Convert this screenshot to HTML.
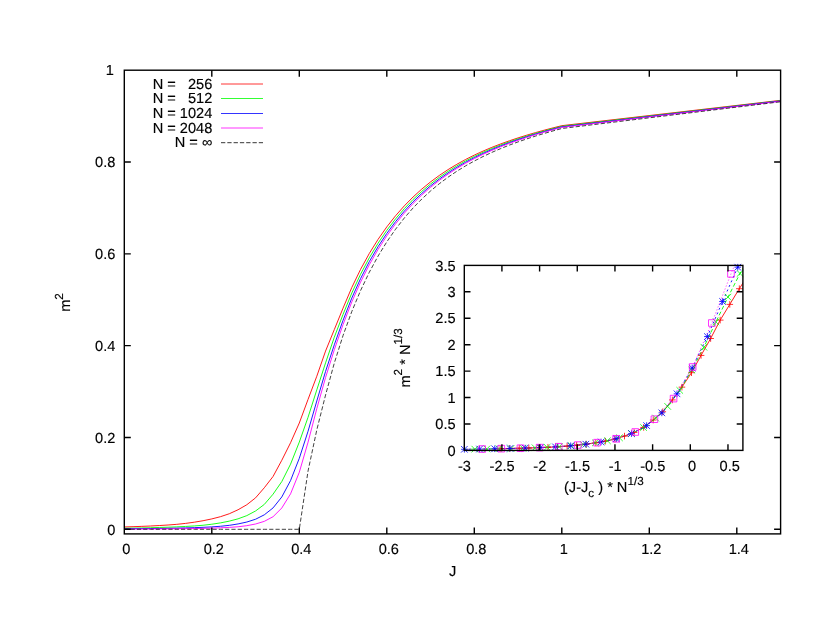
<!DOCTYPE html>
<html><head><meta charset="utf-8"><title>m2 vs J</title>
<style>
html,body{margin:0;padding:0;background:#fff;}
body{width:830px;height:642px;overflow:hidden;font-family:"Liberation Sans",sans-serif;}
svg{display:block;will-change:transform;}
text{text-rendering:geometricPrecision;stroke:#000;stroke-width:0.15px;stroke-linejoin:round;}
</style></head>
<body>
<svg width="830" height="642" viewBox="0 0 830 642" font-family="'Liberation Sans', sans-serif" font-size="14.6" fill="#000">
<rect x="0" y="0" width="830" height="642" fill="#fff"/>
<clipPath id="cm"><rect x="124.3" y="70.2" width="656.3000000000001" height="463.7"/></clipPath>
<g clip-path="url(#cm)" fill="none" stroke-width="0.9" stroke-linejoin="round">
<polyline points="124.30,526.95 133.05,526.68 141.80,526.37 150.55,526.00 159.30,525.54 168.05,525.01 176.80,524.33 185.55,523.40 194.30,522.19 203.05,520.72 211.80,518.91 220.55,516.66 229.30,513.74 238.05,509.76 246.80,504.74 255.55,497.86 264.30,487.75 273.05,476.48 281.80,460.25 290.55,442.76 299.30,423.01 308.05,399.37 316.80,376.23 325.55,351.07 334.30,329.60 343.05,308.12 351.80,287.48 360.55,269.38 369.30,253.45 378.05,239.37 386.80,226.89 395.55,215.78 404.30,205.87 413.05,197.00 421.80,189.05 430.55,181.90 439.30,175.44 448.05,169.61 456.80,164.32 465.55,159.50 474.30,155.11 483.05,151.08 491.80,147.39 500.55,143.98 509.30,140.83 518.05,137.89 526.80,135.16 535.55,132.58 544.30,130.16 553.05,127.86 561.80,125.66 780.55,100.36" stroke="#ff0000"/>
<polyline points="124.30,528.21 133.05,528.11 141.80,527.94 150.55,527.71 159.30,527.46 168.05,527.19 176.80,526.87 185.55,526.45 194.30,525.94 203.05,525.25 211.80,524.23 220.55,522.88 229.30,521.14 238.05,518.84 246.80,515.62 255.55,510.99 264.30,504.43 273.05,494.19 281.80,481.55 290.55,464.17 299.30,442.07 308.05,417.28 316.80,389.85 325.55,362.88 334.30,337.22 343.05,314.38 351.80,292.99 360.55,274.25 369.30,257.77 378.05,243.23 386.80,230.34 395.55,218.88 404.30,208.66 413.05,199.53 421.80,191.34 430.55,183.98 439.30,177.35 448.05,171.35 456.80,165.91 465.55,160.97 474.30,156.46 483.05,152.33 491.80,148.54 500.55,145.05 509.30,141.82 518.05,138.82 526.80,136.01 535.55,133.39 544.30,130.91 553.05,128.56 561.80,126.31 780.55,100.69" stroke="#00ff00"/>
<polyline points="124.30,528.76 133.05,528.69 141.80,528.61 150.55,528.53 159.30,528.45 168.05,528.35 176.80,528.15 185.55,527.91 194.30,527.65 203.05,527.32 211.80,526.88 220.55,526.28 229.30,525.33 238.05,523.95 246.80,522.04 255.55,519.24 264.30,514.82 273.05,507.92 281.80,496.96 290.55,480.55 299.30,458.29 308.05,431.23 316.80,400.99 325.55,371.43 334.30,344.77 343.05,320.31 351.80,298.04 360.55,278.63 369.30,261.63 378.05,246.66 386.80,233.41 395.55,221.64 404.30,211.15 413.05,201.78 421.80,193.38 430.55,185.84 439.30,179.05 448.05,172.90 456.80,167.34 465.55,162.28 474.30,157.66 483.05,153.44 491.80,149.57 500.55,146.00 509.30,142.70 518.05,139.64 526.80,136.78 535.55,134.10 544.30,131.57 553.05,129.18 561.80,126.90 780.55,100.98" stroke="#0000ff"/>
<polyline points="124.30,529.12 133.05,529.07 141.80,529.01 150.55,528.95 159.30,528.88 168.05,528.81 176.80,528.73 185.55,528.65 194.30,528.55 203.05,528.36 211.80,528.11 220.55,527.82 229.30,527.40 238.05,526.78 246.80,525.68 255.55,524.00 264.30,521.35 273.05,516.72 281.80,507.97 290.55,493.87 299.30,472.25 308.05,442.17 316.80,408.59 325.55,377.53 334.30,349.73 343.05,324.56 351.80,301.91 360.55,282.11 369.30,264.73 378.05,249.42 386.80,235.88 395.55,223.86 404.30,213.15 413.05,203.59 421.80,195.03 430.55,187.34 439.30,180.41 448.05,174.15 456.80,168.48 465.55,163.33 474.30,158.63 483.05,154.34 491.80,150.40 500.55,146.77 509.30,143.41 518.05,140.30 526.80,137.40 535.55,134.67 544.30,132.11 553.05,129.68 561.80,127.37 780.55,101.22" stroke="#ff00ff"/>
<polyline points="124.30,529.30 133.05,529.30 141.80,529.30 150.55,529.30 159.30,529.30 168.05,529.30 176.80,529.30 185.55,529.30 194.30,529.30 203.05,529.30 211.80,529.30 220.55,529.30 229.30,529.30 238.05,529.30 246.80,529.30 255.55,529.30 264.30,529.30 273.05,529.30 281.80,529.30 290.55,529.30 299.30,529.30 308.05,470.99 316.80,429.90 325.55,395.04 334.30,363.10 343.05,335.50 351.80,311.52 360.55,290.60 369.30,272.26 378.05,256.12 386.80,241.87 395.55,229.24 404.30,218.01 413.05,207.99 421.80,199.02 430.55,190.97 439.30,183.72 448.05,177.18 456.80,171.26 465.55,165.88 474.30,160.99 483.05,156.51 491.80,152.41 500.55,148.63 509.30,145.14 518.05,141.90 526.80,138.89 535.55,136.07 544.30,133.41 553.05,130.90 561.80,128.51 780.55,101.79" stroke="#111" stroke-width="0.8" stroke-dasharray="4.2 2.1"/>
</g>
<g stroke="#000" stroke-width="1.4" fill="none" stroke-linecap="butt">
<rect x="124.3" y="70.2" width="656.30" height="463.70"/>
<path d="M211.80 533.9 v-6.5 M211.80 70.2 v6.5"/>
<path d="M299.30 533.9 v-6.5 M299.30 70.2 v6.5"/>
<path d="M386.80 533.9 v-6.5 M386.80 70.2 v6.5"/>
<path d="M474.30 533.9 v-6.5 M474.30 70.2 v6.5"/>
<path d="M561.80 533.9 v-6.5 M561.80 70.2 v6.5"/>
<path d="M649.30 533.9 v-6.5 M649.30 70.2 v6.5"/>
<path d="M736.80 533.9 v-6.5 M736.80 70.2 v6.5"/>
<path d="M124.3 529.30 h6.5 M780.6 529.30 h-6.5"/>
<path d="M124.3 437.48 h6.5 M780.6 437.48 h-6.5"/>
<path d="M124.3 345.66 h6.5 M780.6 345.66 h-6.5"/>
<path d="M124.3 253.84 h6.5 M780.6 253.84 h-6.5"/>
<path d="M124.3 162.02 h6.5 M780.6 162.02 h-6.5"/>
</g>
<text x="126.30" y="554.0" text-anchor="middle">0</text>
<text x="213.80" y="554.0" text-anchor="middle">0.2</text>
<text x="301.30" y="554.0" text-anchor="middle">0.4</text>
<text x="388.80" y="554.0" text-anchor="middle">0.6</text>
<text x="476.30" y="554.0" text-anchor="middle">0.8</text>
<text x="563.80" y="554.0" text-anchor="middle">1</text>
<text x="651.30" y="554.0" text-anchor="middle">1.2</text>
<text x="738.80" y="554.0" text-anchor="middle">1.4</text>
<text x="115.4" y="534.50" text-anchor="end">0</text>
<text x="115.4" y="442.68" text-anchor="end">0.2</text>
<text x="115.4" y="350.86" text-anchor="end">0.4</text>
<text x="115.4" y="259.04" text-anchor="end">0.6</text>
<text x="115.4" y="167.22" text-anchor="end">0.8</text>
<text x="113.9" y="75.40" text-anchor="end">1</text>
<text x="452.7" y="576.1" text-anchor="middle">J</text>
<text transform="translate(70.4,311.8) rotate(-90)">m<tspan font-size="11.7" dy="-7.5">2</tspan></text>
<text x="212.3" y="88.6" text-anchor="end" xml:space="preserve" style="white-space:pre">N =   256</text>
<path d="M221 84.0 H263" stroke="#ff0000" stroke-width="0.8" fill="none"/>
<text x="212.3" y="103.2" text-anchor="end" xml:space="preserve" style="white-space:pre">N =   512</text>
<path d="M221 98.5 H263" stroke="#00ff00" stroke-width="0.8" fill="none"/>
<text x="212.3" y="117.9" text-anchor="end" xml:space="preserve" style="white-space:pre">N = 1024</text>
<path d="M221 113.5 H263" stroke="#0000ff" stroke-width="0.8" fill="none"/>
<text x="212.3" y="132.8" text-anchor="end" xml:space="preserve" style="white-space:pre">N = 2048</text>
<path d="M221 128.0 H263" stroke="#ff00ff" stroke-width="0.8" fill="none"/>
<text x="212.3" y="147.4" text-anchor="end" xml:space="preserve" style="white-space:pre">N = ∞</text>
<path d="M221 142.7 H263" stroke="#000" stroke-width="0.8" stroke-dasharray="4.3 2.0" fill="none"/>
<rect x="464.3" y="265.4" width="278.60" height="185.00" fill="#fff" stroke="none"/>
<clipPath id="ci"><rect x="464.3" y="265.4" width="278.60" height="185.00"/></clipPath>
<g fill="none" stroke-width="0.9">
<polyline clip-path="url(#ci)" points="500.12,448.68 509.69,448.48 519.26,448.26 528.83,447.98 538.39,447.65 547.96,447.26 557.53,446.77 567.10,446.09 576.67,445.20 586.24,444.13 595.81,442.81 605.38,441.16 614.95,439.03 624.51,436.12 634.08,432.44 643.65,427.41 653.22,420.03 662.79,411.78 672.36,399.92 681.93,387.13 691.50,372.70 701.06,355.41 710.63,338.50 720.20,320.10 729.77,304.40 739.34,288.70 748.91,273.61 758.48,260.38" stroke="#ff0000"/>
<polyline clip-path="url(#ci)" points="450.69,449.40 462.74,449.31 474.80,449.15 486.86,448.94 498.91,448.71 510.97,448.46 523.02,448.16 535.08,447.78 547.13,447.30 559.19,446.67 571.25,445.73 583.30,444.49 595.36,442.88 607.41,440.76 619.47,437.80 631.53,433.53 643.58,427.49 655.64,418.06 667.69,406.42 679.75,390.40 691.81,370.05 703.86,347.22 715.92,321.95 727.97,297.11 740.03,273.48 752.09,252.43 764.14,232.73" stroke="#00ff00" stroke-dasharray="4 2.4"/>
<polyline clip-path="url(#ci)" points="388.41,449.77 403.60,449.69 418.79,449.60 433.98,449.51 449.16,449.41 464.35,449.29 479.54,449.07 494.73,448.79 509.92,448.48 525.11,448.10 540.30,447.59 555.49,446.89 570.68,445.79 585.87,444.19 601.06,441.98 616.25,438.73 631.44,433.60 646.63,425.59 661.82,412.87 677.01,393.83 692.20,367.99 707.39,336.59 722.58,301.49 737.77,267.19 752.96,236.25" stroke="#0000ff" stroke-dasharray="2 3"/>
<polyline clip-path="url(#ci)" points="309.94,450.14 329.08,450.07 348.21,449.98 367.35,449.88 386.49,449.78 405.63,449.68 424.76,449.57 443.90,449.45 463.04,449.31 482.18,449.02 501.32,448.66 520.45,448.23 539.59,447.62 558.73,446.71 577.87,445.10 597.00,442.66 616.14,438.78 635.28,432.00 654.42,419.21 673.55,398.60 692.69,366.99 711.83,323.01 730.97,273.90 750.11,228.49" stroke="#ff00ff" stroke-dasharray="1 2.2"/>
<path d="M496.82 448.68h6.6M500.12 445.38v6.6M506.39 448.48h6.6M509.69 445.18v6.6M515.96 448.26h6.6M519.26 444.96v6.6M525.53 447.98h6.6M528.83 444.68v6.6M535.09 447.65h6.6M538.39 444.35v6.6M544.66 447.26h6.6M547.96 443.96v6.6M554.23 446.77h6.6M557.53 443.47v6.6M563.80 446.09h6.6M567.10 442.79v6.6M573.37 445.20h6.6M576.67 441.90v6.6M582.94 444.13h6.6M586.24 440.83v6.6M592.51 442.81h6.6M595.81 439.51v6.6M602.08 441.16h6.6M605.38 437.86v6.6M611.65 439.03h6.6M614.95 435.73v6.6M621.21 436.12h6.6M624.51 432.82v6.6M630.78 432.44h6.6M634.08 429.14v6.6M640.35 427.41h6.6M643.65 424.11v6.6M649.92 420.03h6.6M653.22 416.73v6.6M659.49 411.78h6.6M662.79 408.48v6.6M669.06 399.92h6.6M672.36 396.62v6.6M678.63 387.13h6.6M681.93 383.83v6.6M688.20 372.70h6.6M691.50 369.40v6.6M697.76 355.41h6.6M701.06 352.11v6.6M707.33 338.50h6.6M710.63 335.20v6.6M716.90 320.10h6.6M720.20 316.80v6.6M726.47 304.40h6.6M729.77 301.10v6.6M736.04 288.70h6.6M739.34 285.40v6.6" stroke="#ff0000" stroke-width="0.8"/>
<path d="M471.50 445.85l6.6 6.6M471.50 452.45l6.6 -6.6M483.56 445.64l6.6 6.6M483.56 452.24l6.6 -6.6M495.61 445.41l6.6 6.6M495.61 452.01l6.6 -6.6M507.67 445.16l6.6 6.6M507.67 451.76l6.6 -6.6M519.72 444.86l6.6 6.6M519.72 451.46l6.6 -6.6M531.78 444.48l6.6 6.6M531.78 451.08l6.6 -6.6M543.84 444.00l6.6 6.6M543.84 450.60l6.6 -6.6M555.89 443.37l6.6 6.6M555.89 449.97l6.6 -6.6M567.95 442.43l6.6 6.6M567.95 449.03l6.6 -6.6M580.00 441.19l6.6 6.6M580.00 447.79l6.6 -6.6M592.06 439.58l6.6 6.6M592.06 446.18l6.6 -6.6M604.12 437.46l6.6 6.6M604.12 444.06l6.6 -6.6M616.17 434.50l6.6 6.6M616.17 441.10l6.6 -6.6M628.23 430.23l6.6 6.6M628.23 436.83l6.6 -6.6M640.28 424.19l6.6 6.6M640.28 430.79l6.6 -6.6M652.34 414.76l6.6 6.6M652.34 421.36l6.6 -6.6M664.39 403.12l6.6 6.6M664.39 409.72l6.6 -6.6M676.45 387.10l6.6 6.6M676.45 393.70l6.6 -6.6M688.51 366.75l6.6 6.6M688.51 373.35l6.6 -6.6M700.56 343.92l6.6 6.6M700.56 350.52l6.6 -6.6M712.62 318.65l6.6 6.6M712.62 325.25l6.6 -6.6M724.67 293.81l6.6 6.6M724.67 300.41l6.6 -6.6M736.73 270.18l6.6 6.6M736.73 276.78l6.6 -6.6" stroke="#00ff00" stroke-width="0.8"/>
<path d="M461.05 449.29h6.6M464.35 445.99v6.6M461.05 445.99l6.6 6.6M461.05 452.59l6.6 -6.6M476.24 449.07h6.6M479.54 445.77v6.6M476.24 445.77l6.6 6.6M476.24 452.37l6.6 -6.6M491.43 448.79h6.6M494.73 445.49v6.6M491.43 445.49l6.6 6.6M491.43 452.09l6.6 -6.6M506.62 448.48h6.6M509.92 445.18v6.6M506.62 445.18l6.6 6.6M506.62 451.78l6.6 -6.6M521.81 448.10h6.6M525.11 444.80v6.6M521.81 444.80l6.6 6.6M521.81 451.40l6.6 -6.6M537.00 447.59h6.6M540.30 444.29v6.6M537.00 444.29l6.6 6.6M537.00 450.89l6.6 -6.6M552.19 446.89h6.6M555.49 443.59v6.6M552.19 443.59l6.6 6.6M552.19 450.19l6.6 -6.6M567.38 445.79h6.6M570.68 442.49v6.6M567.38 442.49l6.6 6.6M567.38 449.09l6.6 -6.6M582.57 444.19h6.6M585.87 440.89v6.6M582.57 440.89l6.6 6.6M582.57 447.49l6.6 -6.6M597.76 441.98h6.6M601.06 438.68v6.6M597.76 438.68l6.6 6.6M597.76 445.28l6.6 -6.6M612.95 438.73h6.6M616.25 435.43v6.6M612.95 435.43l6.6 6.6M612.95 442.03l6.6 -6.6M628.14 433.60h6.6M631.44 430.30v6.6M628.14 430.30l6.6 6.6M628.14 436.90l6.6 -6.6M643.33 425.59h6.6M646.63 422.29v6.6M643.33 422.29l6.6 6.6M643.33 428.89l6.6 -6.6M658.52 412.87h6.6M661.82 409.57v6.6M658.52 409.57l6.6 6.6M658.52 416.17l6.6 -6.6M673.71 393.83h6.6M677.01 390.53v6.6M673.71 390.53l6.6 6.6M673.71 397.13l6.6 -6.6M688.90 367.99h6.6M692.20 364.69v6.6M688.90 364.69l6.6 6.6M688.90 371.29l6.6 -6.6M704.09 336.59h6.6M707.39 333.29v6.6M704.09 333.29l6.6 6.6M704.09 339.89l6.6 -6.6M719.28 301.49h6.6M722.58 298.19v6.6M719.28 298.19l6.6 6.6M719.28 304.79l6.6 -6.6M734.47 267.19h6.6M737.77 263.89v6.6M734.47 263.89l6.6 6.6M734.47 270.49l6.6 -6.6" stroke="#0000ff" stroke-width="0.8"/>
<path d="M478.88 445.72h6.6v6.6h-6.6zM498.02 445.36h6.6v6.6h-6.6zM517.15 444.93h6.6v6.6h-6.6zM536.29 444.32h6.6v6.6h-6.6zM555.43 443.41h6.6v6.6h-6.6zM574.57 441.80h6.6v6.6h-6.6zM593.70 439.36h6.6v6.6h-6.6zM612.84 435.48h6.6v6.6h-6.6zM631.98 428.70h6.6v6.6h-6.6zM651.12 415.91h6.6v6.6h-6.6zM670.25 395.30h6.6v6.6h-6.6zM689.39 363.69h6.6v6.6h-6.6zM708.53 319.71h6.6v6.6h-6.6zM727.67 270.60h6.6v6.6h-6.6z" stroke="#ff00ff" stroke-width="0.8"/>
</g>
<g stroke="#000" stroke-width="1.4" fill="none">
<rect x="464.3" y="265.4" width="278.60" height="185.00"/>
<path d="M501.92 450.4 v-6.2 M501.92 265.4 v6.2"/>
<path d="M539.60 450.4 v-6.2 M539.60 265.4 v6.2"/>
<path d="M577.27 450.4 v-6.2 M577.27 265.4 v6.2"/>
<path d="M614.95 450.4 v-6.2 M614.95 265.4 v6.2"/>
<path d="M652.62 450.4 v-6.2 M652.62 265.4 v6.2"/>
<path d="M690.30 450.4 v-6.2 M690.30 265.4 v6.2"/>
<path d="M727.97 450.4 v-6.2 M727.97 265.4 v6.2"/>
<path d="M464.3 423.97 h6.2 M742.9 423.97 h-6.2"/>
<path d="M464.3 397.54 h6.2 M742.9 397.54 h-6.2"/>
<path d="M464.3 371.11 h6.2 M742.9 371.11 h-6.2"/>
<path d="M464.3 344.68 h6.2 M742.9 344.68 h-6.2"/>
<path d="M464.3 318.25 h6.2 M742.9 318.25 h-6.2"/>
<path d="M464.3 291.82 h6.2 M742.9 291.82 h-6.2"/>
</g>
<text x="464.45" y="470.6" text-anchor="middle">-3</text>
<text x="502.12" y="470.6" text-anchor="middle">-2.5</text>
<text x="539.80" y="470.6" text-anchor="middle">-2</text>
<text x="577.48" y="470.6" text-anchor="middle">-1.5</text>
<text x="615.15" y="470.6" text-anchor="middle">-1</text>
<text x="652.83" y="470.6" text-anchor="middle">-0.5</text>
<text x="692.00" y="470.6" text-anchor="middle">0</text>
<text x="729.67" y="470.6" text-anchor="middle">0.5</text>
<text x="455.6" y="455.60" text-anchor="end">0</text>
<text x="455.6" y="429.17" text-anchor="end">0.5</text>
<text x="455.6" y="402.74" text-anchor="end">1</text>
<text x="455.6" y="376.31" text-anchor="end">1.5</text>
<text x="455.6" y="349.88" text-anchor="end">2</text>
<text x="455.6" y="323.45" text-anchor="end">2.5</text>
<text x="455.6" y="297.02" text-anchor="end">3</text>
<text x="455.6" y="270.59" text-anchor="end">3.5</text>
<text x="564" y="492.4" xml:space="preserve" style="white-space:pre">(J-J<tspan font-size="11.7" dy="4.2">c</tspan><tspan dy="-4.2"> ) * N</tspan><tspan font-size="11.7" dy="-7.4">1/3</tspan></text>
<text transform="translate(409.9,387.6) rotate(-90)" xml:space="preserve" style="white-space:pre">m<tspan font-size="11.7" dy="-7.5">2</tspan><tspan dy="7.5"> * N</tspan><tspan font-size="11.7" dy="-7.5">1/3</tspan></text>
</svg>
</body></html>
